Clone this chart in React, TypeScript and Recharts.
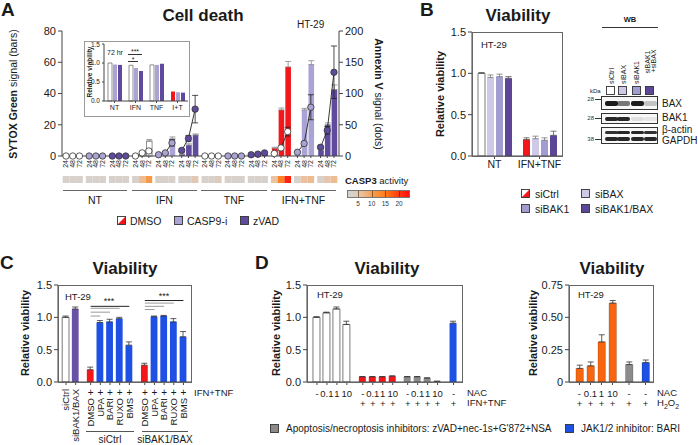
import React from 'react'
import {
  ComposedChart, BarChart, Bar, Scatter, XAxis, YAxis, Cell, ErrorBar, ReferenceLine,
} from 'recharts'

const FONT = '"Liberation Sans", Arial, Helvetica, sans-serif'
const INK = '#1a1a1a'
const AXIS = '#444'

const RED = '#f2171b'
const CASP9_PURPLE = '#aaa4d4'
const ZVAD_PURPLE = '#5f4a9d'
const SIBAX_PURPLE = '#cdc9e7'
const SIBAK1_PURPLE = '#a29dd1'
const SIBOTH_PURPLE = '#5c4698'
const BLUE = '#1e50e4'
const ORANGE = '#f9650f'
const GREY = '#8b8b8b'

// ---- Panel A: cell death over time (treatment x inhibitor x hour)
const treatmentsA = ['NT', 'IFN', 'TNF', 'IFN+TNF']
const inhibitorsA = ['DMSO', 'CASP9-i', 'zVAD']
const hoursA = ['24', '48', '72']
const sytoxA = [
  0, 0, 0, 0, 0, 0, 0, 0, 0,
  0.5, 2.5, 9.5, 0.3, 1.2, 11, 1, 7, 13.5,
  0, 0, 0, 0, 0, 0.3, 0.3, 0.5, 1,
  5, 29.5, 57, 0.5, 29.5, 58.5, 3.5, 20, 42.5,
]
const sytoxErrA = [
  0, 0, 0, 0, 0, 0, 0, 0, 0,
  0.2, 0.6, 1, 0.2, 0.4, 1.2, 0.3, 0.8, 0.6,
  0, 0, 0, 0, 0, 0, 0, 0, 0,
  0.6, 1.2, 3.5, 0, 1, 2.5, 0.5, 1.2, 3,
]
const annexinA = [
  0, 0, 0, 0, 0, 0, 0, 0, 0,
  0, 5, 8, 2, 5, 21, 9, 28, 75,
  0, 0, 0, 0, 0, 0, 2, 3, 5,
  4, 13, 39, 6, 20, 78, 14, 41, 134,
]
const annexinErrA = [
  0, 0, 0, 0, 0, 0, 0, 0, 0,
  0, 1.5, 3, 1, 1.5, 5, 2, 5, 22,
  0, 0, 0, 0, 0, 0, 0, 0, 0,
  1, 2.5, 7, 1, 2.5, 20, 2, 6, 42,
]
const casp3A = [
  2, 2, 2, 2, 2, 2, 2, 2, 2,
  2.5, 6.5, 11, 2, 2, 2.5, 2, 3, 4.5,
  2, 3, 4, 2, 2, 2, 2, 2, 3,
  5.5, 14, 22, 3, 6, 6.5, 2, 5, 6.5,
]

// inset: 72 hr viability
const insetGroups = ['NT', 'IFN', 'TNF', 'I+T']
const insetDmso = [1.0, 0.94, 0.95, 0.25]
const insetCasp9 = [0.96, 0.87, 0.95, 0.23]
const insetZvad = [0.95, 0.79, 0.98, 0.22]

// ---- Panel B
const conditionsB = ['NT', 'IFN+TNF']
const siCtrlB = [1.0, 0.2]
const siBaxB = [0.95, 0.21]
const siBak1B = [0.96, 0.19]
const siBothB = [0.94, 0.25]
const siCtrlErrB = [0.01, 0.02]
const siBaxErrB = [0.03, 0.03]
const siBak1ErrB = [0.03, 0.03]
const siBothErrB = [0.02, 0.05]

// western blot band intensity per lane (siCtrl, siBAX, siBAK1, siBAK1+siBAX)
const blotLanes = ['siCtrl', 'siBAX', 'siBAK1', 'siBAK1+siBAX']
const bandBAX = [0.95, 0.55, 0.95, 0.22]
const bandBAK1 = [0.9, 0.9, 0.1, 0.07]
const bandActin = [0.85, 0.9, 0.9, 0.85]
const bandGAPDH = [0.9, 0.9, 0.9, 0.9]

// ---- Panel C
const labelsC = ['siCtrl', 'siBAK1/BAX', 'DMSO', 'UPA', 'BARI', 'RUXO', 'BMS', 'DMSO', 'UPA', 'BARI', 'RUXO', 'BMS']
const ifnTnfC = ['', '', '+', '+', '+', '+', '+', '+', '+', '+', '+', '+']
const viabilityC = [1.0, 1.13, 0.19, 0.92, 0.93, 0.98, 0.57, 0.26, 1.01, 1.02, 0.93, 0.7]
const errC = [0.02, 0.03, 0.04, 0.03, 0.04, 0.02, 0.05, 0.03, 0.01, 0.01, 0.05, 0.08]
const groupC = [0, 1, 2, 3, 3, 3, 3, 2, 3, 3, 3, 3] // 0 siCtrl, 1 siBAK1/BAX, 2 DMSO, 3 JAKi

// ---- Panel D
const nacD = ['-', '0.1', '1', '10', '-', '0.1', '1', '10', '-', '0.1', '1', '10', '-']
const ifnTnfD = ['', '', '', '', '+', '+', '+', '+', '+', '+', '+', '+', '+']
const viabilityD = [1.0, 1.07, 1.13, 0.89, 0.08, 0.08, 0.08, 0.09, 0.08, 0.08, 0.06, 0.01, 0.91]
const errD = [0.01, 0.01, 0.03, 0.05, 0.005, 0.005, 0.005, 0.005, 0.005, 0.005, 0.005, 0.003, 0.03]
const kindD = [0, 0, 0, 0, 1, 1, 1, 1, 2, 2, 2, 2, 3]
const nacD2 = ['-', '0.1', '1', '10', '-', '-']
const h2o2D2 = ['+', '+', '+', '+', '+', '+']
const viabilityD2 = [0.105, 0.125, 0.31, 0.61, 0.135, 0.15]
const errD2 = [0.025, 0.03, 0.055, 0.02, 0.02, 0.02]
const kindD2 = [4, 4, 4, 4, 2, 3]

// ---------- helpers
const heatStops: [number, number[]][] = [
  [0, [212, 209, 206]], [3, [216, 208, 202]], [6, [236, 192, 156]], [10, [246, 160, 84]],
  [15, [255, 124, 22]], [20, [255, 60, 16]], [24, [255, 12, 12]],
]
function heatColor(v: number) {
  for (let i = 1; i < heatStops.length; i++) {
    const [v1, c1] = heatStops[i]
    const [v0, c0] = heatStops[i - 1]
    if (v <= v1) {
      const f = Math.max(0, (v - v0) / (v1 - v0))
      const c = c0.map((ch, k) => Math.round(ch + (c1[k] - ch) * f))
      return `rgb(${c.join(',')})`
    }
  }
  return 'rgb(255,12,12)'
}

const GROUP_STEP_A = 3.45
const rowsA = sytoxA.map((v, i) => {
  const group = Math.floor(i / 3)
  return {
    x: group * GROUP_STEP_A + (i % 3),
    hour: hoursA[i % 3],
    group,
    treat: Math.floor(group / 3),
    inh: group % 3,
    sytox: v,
    sytoxErr: sytoxErrA[i] ? [0, sytoxErrA[i]] : null,
    annexin: annexinA[i],
    annexinErr: annexinErrA[i] || null,
    casp3: casp3A[i],
    cell: 1,
  }
})
const xTicksA = rowsA.map(r => r.x)
const X_DOMAIN_A: [number, number] = [-0.6, 40.7]
const groupIdsA = Array.from(new Set(rowsA.map(r => r.group)))

const barFillA = (treat: number, inh: number) =>
  inh === 0 ? (treat === 3 ? RED : '#fff') : inh === 1 ? CASP9_PURPLE : ZVAD_PURPLE
const dotFillA = (inh: number) => (inh === 0 ? '#fff' : inh === 1 ? CASP9_PURPLE : ZVAD_PURPLE)

const rowsInset = insetGroups.map((g, i) => ({ g, dmso: insetDmso[i], casp9: insetCasp9[i], zvad: insetZvad[i] }))

const rowsB = conditionsB.map((c, i) => ({
  c,
  siCtrl: siCtrlB[i], siBax: siBaxB[i], siBak1: siBak1B[i], siBoth: siBothB[i],
  eCtrl: [0, siCtrlErrB[i]], eBax: [0, siBaxErrB[i]], eBak1: [0, siBak1ErrB[i]], eBoth: [0, siBothErrB[i]],
}))

const posC = labelsC.map((_, i) => (i < 2 ? i : i < 7 ? 2.55 + (i - 2) : 8.15 + (i - 7)))
const rowsC = viabilityC.map((v, i) => ({ x: posC[i], v, e: [0, errC[i]] }))
const fillC = (g: number) => ['#fff', '#6a51a8', RED, BLUE][g]

const posD = viabilityD.map((_, i) => [0, 4.6, 9.1, 13.7][Math.floor(i / 4)] + (i % 4))
const rowsD = viabilityD.map((v, i) => ({ x: posD[i], v, e: [0, errD[i]] }))
const posD2 = viabilityD2.map((_, i) => (i < 4 ? i : i === 4 ? 4.5 : 6))
const rowsD2 = viabilityD2.map((v, i) => ({ x: posD2[i], v, e: [0, errD2[i]] }))
const fillD = (k: number) => ['#fff', RED, GREY, BLUE, ORANGE][k]

const tickStyle = { fontSize: 11, fill: INK }
const lineStyle = { stroke: AXIS }

// ---------- small html pieces
type TxtProps = {
  x: number; y: number; children: React.ReactNode; size?: number; bold?: boolean
  align?: 'start' | 'middle' | 'end'; rotate?: number; color?: string
}
function Txt({ x, y, children, size = 10, bold = false, align = 'start', rotate = 0, color = INK }: TxtProps) {
  const tx = rotate ? '-50%' : align === 'start' ? '0%' : align === 'middle' ? '-50%' : '-100%'
  return (
    <div
      style={{
        position: 'absolute', left: x, top: y, fontSize: size, fontWeight: bold ? 700 : 400, color,
        whiteSpace: 'nowrap', lineHeight: 1,
        transform: `translate(${tx}, -50%)${rotate ? ` rotate(${rotate}deg)` : ''}`,
      }}
    >
      {children}
    </div>
  )
}

function HLine({ x1, x2, y, color = '#555' }: { x1: number; x2: number; y: number; color?: string }) {
  return <div style={{ position: 'absolute', left: x1, top: y, width: x2 - x1, height: 1, background: color }} />
}

function Frame({ x, y, w, h, color = '#666' }: { x: number; y: number; w: number; h: number; color?: string }) {
  return (
    <div style={{ position: 'absolute', left: x, top: y, width: w, height: h, border: `1px solid ${color}`, boxSizing: 'border-box', pointerEvents: 'none' }} />
  )
}

function Swatch({ x, y, fill, half = false }: { x: number; y: number; fill: string; half?: boolean }) {
  return (
    <svg style={{ position: 'absolute', left: x, top: y }} width={9} height={9}>
      <rect x={0.5} y={0.5} width={8} height={8} fill={half ? '#fff' : fill} />
      {half && <polygon points="8.5,0.5 8.5,8.5 0.5,8.5" fill={RED} />}
      <rect x={0.5} y={0.5} width={8} height={8} fill="none" stroke="#333" strokeWidth={0.9} />
    </svg>
  )
}

const laneOffsets = [9.5, 21.5, 35, 48]
function Blot({ x, y, h, bands }: { x: number; y: number; h: number; bands: { top: number; height: number; levels: number[] }[] }) {
  return (
    <div style={{ position: 'absolute', left: x, top: y, width: 57, height: h, border: '1px solid #333', boxSizing: 'border-box', background: '#f7f7f7', overflow: 'hidden' }}>
      {bands.map((b, bi) =>
        b.levels.map((lvl, li) => (
          <div
            key={`${bi}-${li}`}
            style={{
              position: 'absolute', left: laneOffsets[li] - 6.5, top: b.top, width: 13, height: b.height,
              background: `rgba(15,15,15,${lvl})`, borderRadius: 2, filter: 'blur(0.6px)',
            }}
          />
        )),
      )}
    </div>
  )
}

// ---------- ticks
function HourTick(props: any) {
  const { x, y, payload } = props
  const r = rowsA.find(d => Math.abs(d.x - payload.value) < 1e-6)
  if (!r) return null
  return (
    <text x={x} y={y} dy="0.35em" transform={`rotate(-90 ${x} ${y})`} textAnchor="end" fontSize={7} fill={INK}>
      {r.hour}
    </text>
  )
}

function TickC(props: any) {
  const { x, y, payload } = props
  const i = posC.findIndex(p => Math.abs(p - payload.value) < 1e-6)
  if (i < 0) return null
  if (i < 2) {
    return (
      <text x={x} y={y + 2} dy="0.35em" transform={`rotate(-90 ${x} ${y + 2})`} textAnchor="end" fontSize={9.5} fill={INK}>
        {labelsC[i]}
      </text>
    )
  }
  return (
    <g>
      <text x={x} y={y + 5} textAnchor="middle" dominantBaseline="central" fontSize={10} fill={INK}>{ifnTnfC[i]}</text>
      <text x={x} y={y + 11} dy="0.35em" transform={`rotate(-90 ${x} ${y + 11})`} textAnchor="end" fontSize={9.5} fill={INK}>
        {labelsC[i]}
      </text>
    </g>
  )
}

const makeRowTick = (positions: number[], row1: string[], row2: string[]) => (props: any) => {
  const { x, y, payload } = props
  const i = positions.findIndex(p => Math.abs(p - payload.value) < 1e-6)
  if (i < 0) return null
  return (
    <g>
      <text x={x} y={y + 6} textAnchor="middle" dominantBaseline="central" fontSize={9.5} fill={INK}>{row1[i]}</text>
      <text x={x} y={y + 16} textAnchor="middle" dominantBaseline="central" fontSize={9.5} fill={INK}>{row2[i]}</text>
    </g>
  )
}
const TickD = makeRowTick(posD, nacD, ifnTnfD)
const TickD2 = makeRowTick(posD2, nacD2, h2o2D2)

const viaFmt = (v: number) => v.toFixed(1)

export default function App() {
  const heatGradient = heatStops
    .map(([v, c]) => `rgb(${c.join(',')}) ${Math.max(0, ((v - 1) / 23) * 100).toFixed(1)}%`)
    .join(', ')

  return (
    <div style={{ position: 'absolute', left: 0, top: 0, width: 698, height: 445, background: '#fff', overflow: 'hidden', fontFamily: FONT, color: INK }}>
      {/* ===== Panel A ===== */}
      <Txt x={1} y={9} size={19} bold>A</Txt>
      <Txt x={203} y={15} size={17} bold align="middle">Cell death</Txt>
      <Txt x={13} y={94} size={10.5} rotate={-90}><b>SYTOX Green</b> signal (bars)</Txt>
      <Txt x={379} y={94} size={10.5} rotate={90}><b>Annexin V</b> signal (dots)</Txt>
      <Txt x={297} y={25} size={10}>HT-29</Txt>

      <div style={{ position: 'absolute', left: 0, top: 0 }}>
        <ComposedChart width={390} height={200} data={rowsA} margin={{ top: 31, right: 21, bottom: 22, left: 22 }}>
          <XAxis
            dataKey="x" type="number" domain={X_DOMAIN_A} ticks={xTicksA} interval={0} allowDataOverflow
            height={22} tick={HourTick} tickSize={2} axisLine={lineStyle} tickLine={lineStyle}
          />
          <YAxis yAxisId="left" domain={[0, 80]} ticks={[0, 20, 40, 60, 80]} width={40} tick={tickStyle} tickSize={4} axisLine={lineStyle} tickLine={lineStyle} />
          <YAxis yAxisId="right" orientation="right" domain={[0, 200]} ticks={[0, 50, 100, 150, 200]} width={30} tick={tickStyle} tickSize={4} axisLine={lineStyle} tickLine={lineStyle} />
          <Bar yAxisId="left" dataKey="sytox" barSize={5.6} isAnimationActive={false}>
            {rowsA.map((r, i) => (
              <Cell key={i} fill={barFillA(r.treat, r.inh)} stroke={r.inh === 0 && r.treat !== 3 ? '#444' : 'none'} strokeWidth={0.6} />
            ))}
            <ErrorBar dataKey="sytoxErr" width={3} stroke="#888" strokeWidth={0.8} direction="y" />
          </Bar>
          {groupIdsA.map(g => {
            const pts = rowsA.filter(r => r.group === g)
            const fill = dotFillA(pts[0].inh)
            return (
              <Scatter
                key={g}
                yAxisId="right"
                data={pts}
                dataKey="annexin"
                line={{ stroke: '#222', strokeWidth: 0.9 }}
                isAnimationActive={false}
                shape={(p: any) => <circle cx={p.cx} cy={p.cy} r={3.2} fill={fill} stroke="#333" strokeWidth={0.8} />}
              >
                <ErrorBar dataKey="annexinErr" width={3} stroke="#222" strokeWidth={0.8} direction="y" />
              </Scatter>
            )
          })}
        </ComposedChart>
      </div>

      {/* CASP3 activity heat strip */}
      <div style={{ position: 'absolute', left: 0, top: 176 }}>
        <ComposedChart width={390} height={7} data={rowsA} margin={{ top: 0, right: 51, bottom: 0, left: 62 }}>
          <XAxis dataKey="x" type="number" domain={X_DOMAIN_A} ticks={xTicksA} allowDataOverflow hide />
          <YAxis domain={[0, 1]} hide />
          <Bar dataKey="cell" barSize={6.7} isAnimationActive={false}>
            {rowsA.map((r, i) => <Cell key={i} fill={heatColor(r.casp3)} />)}
          </Bar>
        </ComposedChart>
      </div>

      {/* treatment brackets */}
      {treatmentsA.map((t, i) => {
        const x1 = [63, 132, 201, 271][i]
        const x2 = [127, 197, 267, 336][i]
        return (
          <React.Fragment key={t}>
            <HLine x1={x1} x2={x2} y={190} color="#666" />
            <Txt x={(x1 + x2) / 2} y={200} size={10.5} align="middle">{t}</Txt>
          </React.Fragment>
        )
      })}

      {/* legend A */}
      <Swatch x={117} y={216} fill={RED} half />
      <Txt x={130} y={221} size={10.5}>{inhibitorsA[0]}</Txt>
      <Swatch x={174} y={216} fill={CASP9_PURPLE} />
      <Txt x={187} y={221} size={10.5}>{inhibitorsA[1]}</Txt>
      <Swatch x={240} y={216} fill={ZVAD_PURPLE} />
      <Txt x={253} y={221} size={10.5}>{inhibitorsA[2]}</Txt>

      {/* CASP3 legend */}
      <Txt x={345} y={181} size={9.5}><b>CASP3</b> activity</Txt>
      <div style={{ position: 'absolute', left: 347, top: 190, width: 63, height: 8, border: '1px solid #777', boxSizing: 'border-box', background: `linear-gradient(to right, ${heatGradient})` }} />
      {[5, 10, 15, 20].map(v => (
        <React.Fragment key={v}>
          <div style={{ position: 'absolute', left: 347 + ((v - 1) / 23) * 63, top: 191, width: 0, height: 6, borderLeft: '1px dashed rgba(60,40,20,0.6)' }} />
          <Txt x={347 + ((v - 1) / 23) * 63} y={204} size={6.5} align="middle" color="#333">{v}</Txt>
        </React.Fragment>
      ))}

      {/* inset */}
      <Frame x={84} y={41} w={106} h={76} color="#999" />
      <Txt x={90} y={72} size={6.5} bold rotate={-90}>Relative viability</Txt>
      <div style={{ position: 'absolute', left: 86, top: 41 }}>
        <BarChart width={104} height={75} data={rowsInset} margin={{ top: 3, right: 2, bottom: 3, left: 0 }} barGap={1}>
          <XAxis dataKey="g" tick={{ fontSize: 7, fill: INK }} tickSize={2} height={12} interval={0} axisLine={lineStyle} tickLine={lineStyle} />
          <YAxis domain={[0, 1.5]} ticks={[0, 0.5, 1, 1.5]} tickFormatter={viaFmt} width={18} tick={{ fontSize: 6.5, fill: INK }} tickSize={2} axisLine={lineStyle} tickLine={lineStyle} />
          <Bar dataKey="dmso" barSize={4} isAnimationActive={false}>
            {rowsInset.map((r, i) => <Cell key={i} fill={i === 3 ? RED : '#fff'} stroke={i === 3 ? 'none' : '#444'} strokeWidth={0.6} />)}
          </Bar>
          <Bar dataKey="casp9" barSize={4} fill={CASP9_PURPLE} isAnimationActive={false} />
          <Bar dataKey="zvad" barSize={4} fill={ZVAD_PURPLE} isAnimationActive={false} />
        </BarChart>
      </div>
      <Txt x={107} y={52} size={7}>72 hr</Txt>
      <Txt x={135} y={51} size={7} align="middle">***</Txt>
      <HLine x1={128} x2={142} y={54} color="#333" />
      <Txt x={133} y={59} size={7} align="middle">*</Txt>
      <HLine x1={128} x2={138} y={61} color="#333" />

      {/* ===== Panel B ===== */}
      <Txt x={420} y={9} size={19} bold>B</Txt>
      <Txt x={518} y={15} size={17} bold align="middle">Viability</Txt>
      <Txt x={440} y={94} size={11} bold rotate={-90}>Relative viability</Txt>
      <div style={{ position: 'absolute', left: 420, top: 20 }}>
        <BarChart width={150} height={160} data={rowsB} margin={{ top: 12, right: 8, bottom: 4, left: 12 }} barGap={2}>
          <XAxis dataKey="c" tick={{ fontSize: 10.5, fill: INK }} tickSize={3} height={20} interval={0} axisLine={lineStyle} tickLine={lineStyle} />
          <YAxis domain={[0, 1.5]} ticks={[0, 0.5, 1, 1.5]} tickFormatter={viaFmt} width={40} tick={tickStyle} tickSize={4} axisLine={lineStyle} tickLine={lineStyle} />
          <Bar dataKey="siCtrl" barSize={7} isAnimationActive={false}>
            {rowsB.map((r, i) => <Cell key={i} fill={i === 0 ? '#fff' : RED} stroke={i === 0 ? '#444' : 'none'} strokeWidth={0.7} />)}
            <ErrorBar dataKey="eCtrl" width={3} stroke="#555" strokeWidth={0.8} direction="y" />
          </Bar>
          <Bar dataKey="siBax" barSize={7} fill={SIBAX_PURPLE} isAnimationActive={false}>
            <ErrorBar dataKey="eBax" width={3} stroke="#777" strokeWidth={0.8} direction="y" />
          </Bar>
          <Bar dataKey="siBak1" barSize={7} fill={SIBAK1_PURPLE} isAnimationActive={false}>
            <ErrorBar dataKey="eBak1" width={3} stroke="#777" strokeWidth={0.8} direction="y" />
          </Bar>
          <Bar dataKey="siBoth" barSize={7} fill={SIBOTH_PURPLE} isAnimationActive={false}>
            <ErrorBar dataKey="eBoth" width={3} stroke="#555" strokeWidth={0.8} direction="y" />
          </Bar>
        </BarChart>
      </div>
      <Frame x={472} y={32} w={91} h={125} color="#666" />
      <Txt x={481} y={45} size={9.5}>HT-29</Txt>

      <Swatch x={521} y={189} fill={RED} half />
      <Txt x={535} y={194} size={10.5}>siCtrl</Txt>
      <Swatch x={581} y={189} fill={SIBAX_PURPLE} />
      <Txt x={595} y={194} size={10.5}>siBAX</Txt>
      <Swatch x={521} y={204} fill={SIBAK1_PURPLE} />
      <Txt x={535} y={209} size={10.5}>siBAK1</Txt>
      <Swatch x={581} y={204} fill={SIBOTH_PURPLE} />
      <Txt x={595} y={209} size={10.5}>siBAK1/BAX</Txt>

      {/* western blot */}
      <Txt x={630} y={20} size={7.5} bold align="middle">WB</Txt>
      <HLine x1={602} x2={658} y={27} color="#333" />
      {blotLanes.map((l, i) => {
        const cx = 601 + laneOffsets[i]
        if (i === 3) {
          return (
            <React.Fragment key={l}>
              <Txt x={cx - 2} y={62} size={7} rotate={-90}>siBAK1</Txt>
              <Txt x={cx + 4} y={61} size={7} rotate={-90}>+siBAX</Txt>
            </React.Fragment>
          )
        }
        return <div key={l} style={{ position: 'absolute', left: cx, top: 84, fontSize: 7, lineHeight: 1, whiteSpace: 'nowrap', transformOrigin: '0 0', transform: 'rotate(-90deg) translateY(-50%)' }}>{l}</div>
      })}
      <Txt x={590} y={91} size={6}>kDa</Txt>
      {[SIBAX_PURPLE, SIBAX_PURPLE, SIBAK1_PURPLE, SIBOTH_PURPLE].map((c, i) => (
        <Swatch key={i} x={601 + laneOffsets[i] - 4.5} y={86} fill={i === 0 ? '#fff' : c} />
      ))}
      <Blot x={601} y={96} h={14} bands={[{ top: 4, height: 4.5, levels: bandBAX }]} />
      <Blot x={601} y={113} h={11} bands={[{ top: 3, height: 4, levels: bandBAK1 }]} />
      <Blot x={601} y={127} h={17} bands={[{ top: 2.5, height: 3.5, levels: bandActin }, { top: 8.5, height: 4, levels: bandGAPDH }]} />
      {[[99, '28'], [118, '28'], [139, '38']].map(([y, t], i) => (
        <React.Fragment key={i}>
          <Txt x={594} y={y as number} size={6} align="end" color="#333">{t}</Txt>
          <HLine x1={595} x2={601} y={y as number} color="#333" />
        </React.Fragment>
      ))}
      <Txt x={662} y={104} size={10}>BAX</Txt>
      <Txt x={662} y={118} size={10}>BAK1</Txt>
      <Txt x={662} y={130} size={10}>β-actin</Txt>
      <Txt x={662} y={141} size={10}>GAPDH</Txt>

      {/* ===== Panel C ===== */}
      <Txt x={0} y={262} size={19} bold>C</Txt>
      <Txt x={125} y={268} size={17} bold align="middle">Viability</Txt>
      <Txt x={25} y={333} size={11} bold rotate={-90}>Relative viability</Txt>
      <div style={{ position: 'absolute', left: 0, top: 275 }}>
        <ComposedChart width={200} height={170} data={rowsC} margin={{ top: 10, right: 9, bottom: 3, left: 22 }}>
          <XAxis dataKey="x" type="number" domain={[-0.83, 12.93]} ticks={posC} interval={0} allowDataOverflow height={60} tick={TickC} tickSize={3} axisLine={lineStyle} tickLine={lineStyle} />
          <YAxis domain={[0, 1.5]} ticks={[0, 0.5, 1, 1.5]} tickFormatter={viaFmt} width={36} tick={tickStyle} tickSize={4} axisLine={lineStyle} tickLine={lineStyle} />
          <Bar dataKey="v" barSize={6.8} isAnimationActive={false}>
            {rowsC.map((_, i) => <Cell key={i} fill={fillC(groupC[i])} stroke={groupC[i] === 0 ? '#444' : 'none'} strokeWidth={0.7} />)}
            <ErrorBar dataKey="e" width={3} stroke="#333" strokeWidth={0.8} direction="y" />
          </Bar>
          {[[3, 1.02], [4, 1.08], [5, 1.14], [6, 1.17], [8, 1.12], [9, 1.17], [10, 1.22], [11, 1.26]].map(([idx, y]) => {
            const start = idx < 7 ? posC[2] : posC[7]
            const dark = idx === 6 || idx === 11
            return (
              <ReferenceLine
                key={idx}
                segment={[{ x: start, y }, { x: posC[idx], y }]}
                stroke={dark ? '#222' : '#9a9a9a'}
                strokeWidth={1}
                ifOverflow="visible"
              />
            )
          })}
        </ComposedChart>
      </div>
      <Frame x={58} y={285} w={134} h={98} color="#666" />
      <Txt x={65} y={297} size={9.5}>HT-29</Txt>
      <Txt x={109} y={301} size={9} align="middle">***</Txt>
      <Txt x={164} y={296} size={9} align="middle">***</Txt>
      <Txt x={194} y={393} size={9.5}>IFN+TNF</Txt>
      <HLine x1={86} x2={134} y={431} color="#555" />
      <HLine x1={142} x2={188} y={431} color="#555" />
      <Txt x={110} y={440} size={10} align="middle">siCtrl</Txt>
      <Txt x={165} y={440} size={10} align="middle">siBAK1/BAX</Txt>

      {/* ===== Panel D ===== */}
      <Txt x={255} y={262} size={19} bold>D</Txt>
      <Txt x={387} y={268} size={17} bold align="middle">Viability</Txt>
      <Txt x={276} y={333} size={11} bold rotate={-90}>Relative viability</Txt>
      <div style={{ position: 'absolute', left: 260, top: 275 }}>
        <ComposedChart width={210} height={137} data={rowsD} margin={{ top: 10, right: 8, bottom: 2, left: 13 }}>
          <XAxis dataKey="x" type="number" domain={[-1, 14.55]} ticks={posD} interval={0} allowDataOverflow height={28} tick={TickD} tickSize={3} axisLine={lineStyle} tickLine={lineStyle} />
          <YAxis domain={[0, 1.5]} ticks={[0, 0.5, 1, 1.5]} tickFormatter={viaFmt} width={34} tick={tickStyle} tickSize={4} axisLine={lineStyle} tickLine={lineStyle} />
          <Bar dataKey="v" barSize={7} isAnimationActive={false}>
            {rowsD.map((_, i) => <Cell key={i} fill={fillD(kindD[i])} stroke={kindD[i] === 0 ? '#444' : 'none'} strokeWidth={0.7} />)}
            <ErrorBar dataKey="e" width={3} stroke="#333" strokeWidth={0.8} direction="y" />
          </Bar>
        </ComposedChart>
      </div>
      <Frame x={307} y={285} w={156} h={98} color="#666" />
      <Txt x={317} y={295} size={9.5}>HT-29</Txt>
      <Txt x={467} y={393} size={9.5}>NAC</Txt>
      <Txt x={467} y={403} size={9.5}>IFN+TNF</Txt>

      <Txt x={612} y={268} size={17} bold align="middle">Viability</Txt>
      <Txt x={533} y={333} size={11} bold rotate={-90}>Relative viability</Txt>
      <div style={{ position: 'absolute', left: 530, top: 275 }}>
        <ComposedChart width={130} height={137} data={rowsD2} margin={{ top: 10, right: 7, bottom: 2, left: 5 }}>
          <XAxis dataKey="x" type="number" domain={[-0.95, 6.68]} ticks={posD2} interval={0} allowDataOverflow height={28} tick={TickD2} tickSize={3} axisLine={lineStyle} tickLine={lineStyle} />
          <YAxis domain={[0, 0.75]} ticks={[0, 0.25, 0.5, 0.75]} tickFormatter={(v: number) => (v === 0 ? '0' : v.toFixed(2))} width={34} tick={tickStyle} tickSize={4} axisLine={lineStyle} tickLine={lineStyle} />
          <Bar dataKey="v" barSize={7.5} isAnimationActive={false}>
            {rowsD2.map((_, i) => <Cell key={i} fill={fillD(kindD2[i])} stroke="rgba(0,0,0,0.35)" strokeWidth={0.5} />)}
            <ErrorBar dataKey="e" width={3} stroke="#333" strokeWidth={0.8} direction="y" />
          </Bar>
        </ComposedChart>
      </div>
      <Frame x={569} y={285} w={85} h={98} color="#666" />
      <Txt x={578} y={295} size={9.5}>HT-29</Txt>
      <Txt x={657} y={393} size={9.5}>NAC</Txt>
      <Txt x={657} y={404} size={9.5}>H<sub style={{ fontSize: 7 }}>2</sub>O<sub style={{ fontSize: 7 }}>2</sub></Txt>

      <Swatch x={270} y={424} fill={GREY} />
      <Txt x={286} y={429} size={10}>Apoptosis/necroptosis inhibitors: zVAD+nec-1s+G'872+NSA</Txt>
      <Swatch x={565} y={424} fill={BLUE} />
      <Txt x={581} y={429} size={10}>JAK1/2 inhibitor: BARI</Txt>
    </div>
  )
}
